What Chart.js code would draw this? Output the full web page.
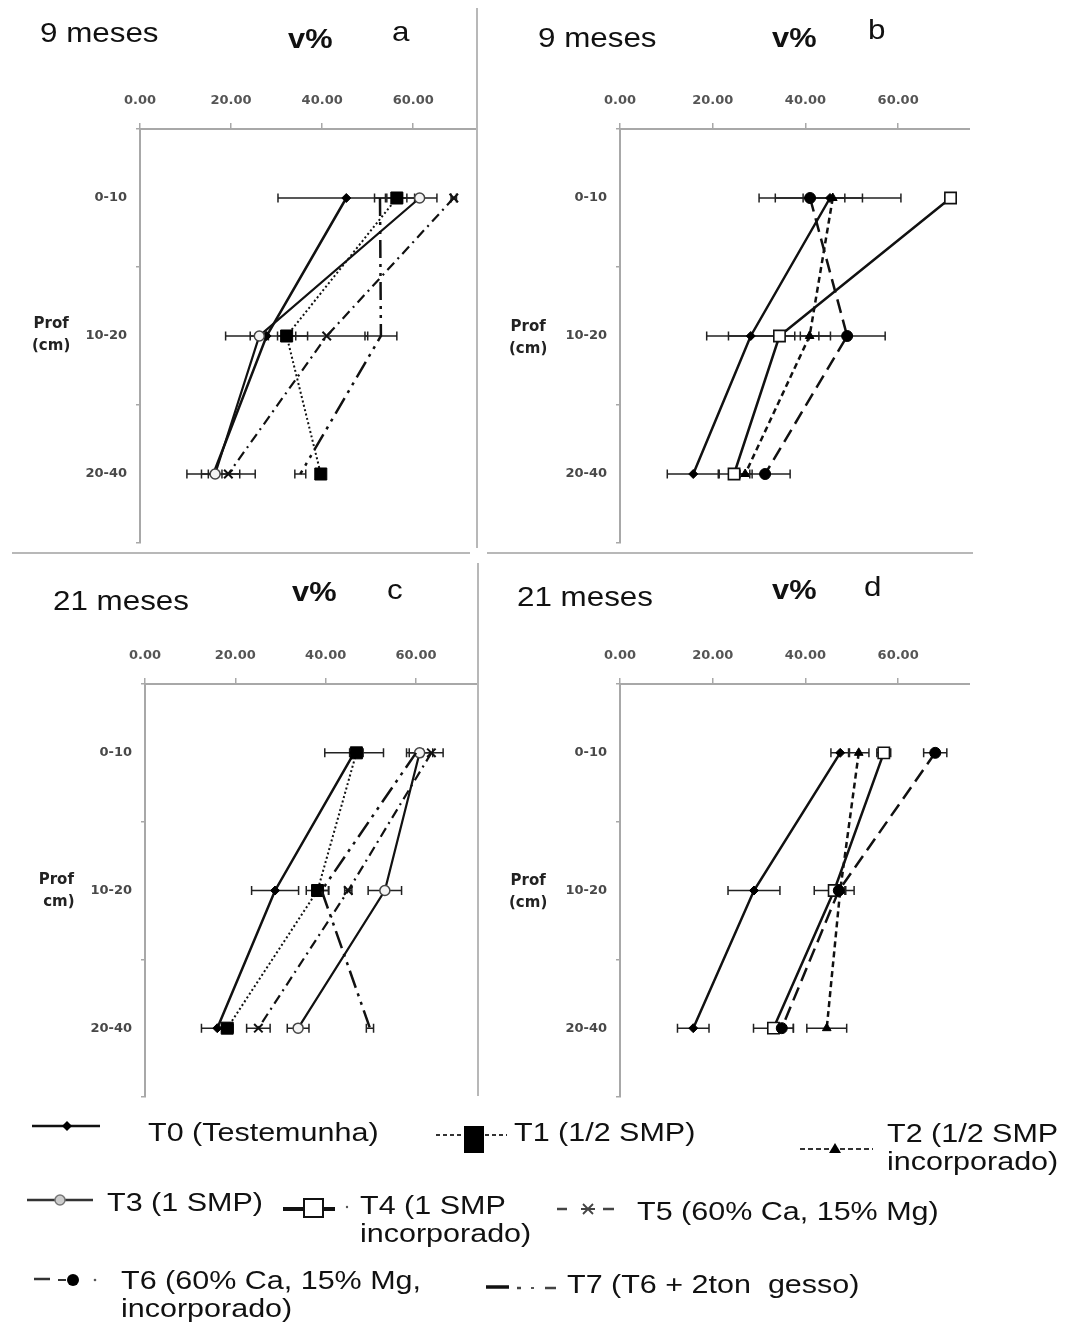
<!DOCTYPE html>
<html><head><meta charset="utf-8">
<script src="https://cdn.jsdelivr.net/npm/chart.js@4/dist/chart.umd.min.js"></script>
<style>
html,body{margin:0;padding:0;background:#fff;}
#root{position:relative;width:1066px;height:1323px;overflow:hidden;background:#fff;font-family:"Liberation Sans",Arial,sans-serif;color:#111;}
canvas{position:absolute;}
.t{position:absolute;white-space:nowrap;line-height:1;transform-origin:left top;}
.title{font-size:28px;transform:scaleX(1.12);}
.vp{font-size:28px;font-weight:bold;transform:scaleX(1.1);}
.prof{position:absolute;font-family:"DejaVu Sans",sans-serif;font-weight:bold;font-size:15px;line-height:22px;color:#222;text-align:center;}
.lg{position:absolute;white-space:nowrap;font-size:25px;line-height:28px;transform:scaleX(1.22);transform-origin:left top;}
.dv{position:absolute;background:#b8b8b8;}
</style></head><body>
<div id="root">
  <canvas id="ca" width="477" height="545" style="left:0;top:2px"></canvas>
  <canvas id="cb" width="490" height="545" style="left:480px;top:2px"></canvas>
  <canvas id="cc" width="477" height="544" style="left:0;top:557px"></canvas>
  <canvas id="cd" width="490" height="544" style="left:480px;top:557px"></canvas>

  <div class="dv" style="left:476px;top:8px;width:2px;height:540px"></div>
  <div class="dv" style="left:477px;top:563px;width:2px;height:533px"></div>
  <div class="dv" style="left:12px;top:552px;width:458px;height:2px"></div>
  <div class="dv" style="left:487px;top:552px;width:486px;height:2px"></div>

  <div class="t title" style="left:40px;top:19px">9 meses</div>
  <div class="t vp" style="left:288px;top:25px">v%</div>
  <div class="t title" style="left:392px;top:18px">a</div>
  <div class="t title" style="left:538px;top:24px">9 meses</div>
  <div class="t vp" style="left:772px;top:24px">v%</div>
  <div class="t title" style="left:868px;top:16px">b</div>
  <div class="t title" style="left:53px;top:587px">21 meses</div>
  <div class="t vp" style="left:292px;top:578px">v%</div>
  <div class="t title" style="left:387px;top:576px">c</div>
  <div class="t title" style="left:517px;top:583px">21 meses</div>
  <div class="t vp" style="left:772px;top:576px">v%</div>
  <div class="t title" style="left:864px;top:573px">d</div>

  <div class="prof" style="left:32px;top:312px">Prof<br>(cm)</div>
  <div class="prof" style="left:509px;top:315px">Prof<br>(cm)</div>
  <div class="prof" style="left:38px;top:868px">Prof<br>&nbsp;cm)</div>
  <div class="prof" style="left:509px;top:869px">Prof<br>(cm)</div>

  <svg style="position:absolute;left:0;top:1100px" width="1066" height="223" viewBox="0 1100 1066 223">
    <g stroke="#111" fill="none">
      <line x1="32" y1="1126" x2="100" y2="1126" stroke-width="2.5"/>
      <path d="M62 1126 L67 1121 L72 1126 L67 1131 Z" fill="#000" stroke="none"/>
      <line x1="436" y1="1135" x2="463" y2="1135" stroke-width="2" stroke-dasharray="4 3" stroke="#333"/>
      <line x1="485" y1="1135" x2="507" y2="1135" stroke-width="2" stroke-dasharray="4 3" stroke="#333"/>
      <rect x="464" y="1126" width="20" height="27" fill="#000" stroke="none"/>
      <line x1="800" y1="1149" x2="873" y2="1149" stroke-width="2" stroke-dasharray="5 3" stroke="#333"/>
      <path d="M829 1153 L835 1143 L841 1153 Z" fill="#000" stroke="none"/>
      <line x1="27" y1="1200" x2="93" y2="1200" stroke-width="2.5" stroke="#333"/>
      <circle cx="60" cy="1200" r="5" fill="#ccc" stroke="#777" stroke-width="1.5"/>
      <line x1="283" y1="1209" x2="335" y2="1209" stroke-width="4"/>
      <rect x="304" y="1199" width="19" height="18" fill="#fff" stroke="#111" stroke-width="2"/>
      <circle cx="347" cy="1207" r="1.2" fill="#555" stroke="none"/>
      <line x1="557" y1="1209" x2="567" y2="1209" stroke-width="2.5" stroke="#444"/>
      <line x1="581" y1="1209" x2="595" y2="1209" stroke-width="2" stroke="#444"/>
      <path d="M583 1204 L593 1214 M583 1214 L593 1204" stroke-width="1.8" stroke="#444"/>
      <line x1="603" y1="1209" x2="614" y2="1209" stroke-width="2.5" stroke="#444"/>
      <line x1="34" y1="1279" x2="50" y2="1279" stroke-width="2.5" stroke="#333"/>
      <line x1="58" y1="1280" x2="66" y2="1280" stroke-width="2" stroke="#333"/>
      <circle cx="73" cy="1280" r="6" fill="#000" stroke="none"/>
      <circle cx="95" cy="1280" r="1.3" fill="#555" stroke="none"/>
      <line x1="486" y1="1287" x2="509" y2="1287" stroke-width="3.5"/>
      <line x1="517" y1="1288" x2="521" y2="1288" stroke-width="2.5" stroke="#444"/>
      <line x1="531" y1="1288" x2="534" y2="1288" stroke-width="2" stroke="#555"/>
      <line x1="545" y1="1288" x2="556" y2="1288" stroke-width="2.5" stroke="#444"/>
    </g>
  </svg>

  <div class="lg" style="left:148px;top:1118px">T0 (Testemunha)</div>
  <div class="lg" style="left:514px;top:1118px">T1 (1/2 SMP)</div>
  <div class="lg" style="left:887px;top:1119px">T2 (1/2 SMP<br>incorporado)</div>
  <div class="lg" style="left:107px;top:1188px">T3 (1 SMP)</div>
  <div class="lg" style="left:360px;top:1191px">T4 (1 SMP<br>incorporado)</div>
  <div class="lg" style="left:637px;top:1197px">T5 (60% Ca, 15% Mg)</div>
  <div class="lg" style="left:121px;top:1266px">T6 (60% Ca, 15% Mg,<br>incorporado)</div>
  <div class="lg" style="left:567px;top:1270px">T7 (T6 + 2ton&nbsp; gesso)</div>
</div>

<script>
// ---------- DATA ----------
const depthLabels = ['0-10', '10-20', '20-40'];
const xTickValues = [0, 20, 40, 60];

// Panel a: 9 meses (surface application)
const a_T0 = [45.3, 27.8, 16.1];  const a_T0_err = [15.0, 9.0, 5.8];
const a_T1 = [56.4, 32.2, 39.7];  const a_T1_err = [2.2, 2.0, 1.0];
const a_T3 = [61.4, 26.2, 16.5];  const a_T3_err = [3.8, 2.0, 1.5];
const a_T5 = [68.9, 41.0, 19.4];  const a_T5_err = [0.6, 9.0, 5.9];
const a_T7 = [52.7, 52.9, 35.2];  const a_T7_err = [1.2, 3.5, 1.2];

// Panel b: 9 meses (incorporated)
const b_T0 = [45.3, 28.2, 15.8];  const b_T0_err = [15.3, 9.5, 5.6];
const b_T2 = [45.9, 40.9, 27.0];  const b_T2_err = [6.4, 2.0, 1.5];
const b_T4 = [71.3, 34.4, 24.6];  const b_T4_err = [1.2, 11.0, 3.4];
const b_T6 = [41.0, 49.0, 31.3];  const b_T6_err = [7.5, 8.2, 5.4];

// Panel c: 21 meses (surface application)
const c_T0 = [46.3, 28.8, 16.0];  const c_T0_err = [6.5, 5.2, 3.5];
const c_T1 = [46.8, 38.2, 18.2];  const c_T1_err = [1.5, 2.5, 1.2];
const c_T3 = [60.8, 53.1, 33.9];  const c_T3_err = [2.9, 3.7, 2.4];
const c_T5 = [63.4, 45.0, 25.1];  const c_T5_err = [2.6, 0.8, 2.6];
const c_T7 = [60.0, 39.1, 49.8];  const c_T7_err = [1.5, 1.5, 0.8];

// Panel d: 21 meses (incorporated)
const d_T0 = [47.5, 28.9, 15.8];  const d_T0_err = [2.0, 5.6, 3.4];
const d_T2 = [51.5, 47.5, 44.6];  const d_T2_err = [2.2, 1.0, 4.3];
const d_T4 = [56.9, 46.2, 33.1];  const d_T4_err = [1.5, 4.3, 4.3];
const d_T6 = [68.0, 47.2, 34.9];  const d_T6_err = [2.5, 1.5, 2.5];

// ---------- STYLES ----------
const styles = {
  T0: {borderDash: [], borderWidth: 2.5, pointStyle: 'rectRot', pointRadius: 4.5, pointBackgroundColor: '#000', pointBorderColor: '#000', pointBorderWidth: 1},
  T1: {borderDash: [2, 2.5], borderWidth: 2, pointStyle: 'rect', pointRadius: 8.5, pointBackgroundColor: '#000', pointBorderColor: '#000', pointBorderWidth: 1},
  T2: {borderDash: [6, 4], borderWidth: 2.5, pointStyle: 'triangle', pointRadius: 5, pointBackgroundColor: '#000', pointBorderColor: '#000', pointBorderWidth: 1},
  T3: {borderDash: [], borderWidth: 2.2, pointStyle: 'circle', pointRadius: 5, pointBackgroundColor: '#f4f4f4', pointBorderColor: '#444', pointBorderWidth: 1.5},
  T4: {borderDash: [], borderWidth: 2.5, pointStyle: 'rect', pointRadius: 8, pointBackgroundColor: '#fff', pointBorderColor: '#111', pointBorderWidth: 1.6},
  T5: {borderDash: [10, 5, 2, 5], borderWidth: 2.2, pointStyle: 'crossRot', pointRadius: 6, pointBackgroundColor: '#000', pointBorderColor: '#111', pointBorderWidth: 2},
  T6: {borderDash: [14, 7], borderWidth: 2.5, pointStyle: 'circle', pointRadius: 5.5, pointBackgroundColor: '#000', pointBorderColor: '#000', pointBorderWidth: 1},
  T7: {borderDash: [18, 6, 3, 6, 3, 6], borderWidth: 2.5, pointStyle: 'circle', pointRadius: 0, pointBackgroundColor: '#000', pointBorderColor: '#000', pointBorderWidth: 0}
};

function ds(name, values, errs) {
  return Object.assign({label: name, data: values, errors: errs, borderColor: '#111', fill: false, tension: 0, clip: false}, styles[name]);
}

const errorBarPlugin = {
  id: 'errorBars',
  beforeDatasetsDraw(chart) {
    const ctx = chart.ctx, xs = chart.scales.x;
    ctx.save();
    ctx.strokeStyle = '#222';
    ctx.lineWidth = 1.5;
    chart.data.datasets.forEach((d, i) => {
      const meta = chart.getDatasetMeta(i);
      meta.data.forEach((pt, j) => {
        const v = d.data[j], e = d.errors[j];
        const x1 = xs.getPixelForValue(v - e), x2 = xs.getPixelForValue(v + e), y = pt.y;
        ctx.beginPath();
        ctx.moveTo(x1, y); ctx.lineTo(x2, y);
        ctx.moveTo(x1, y - 4.5); ctx.lineTo(x1, y + 4.5);
        ctx.moveTo(x2, y - 4.5); ctx.lineTo(x2, y + 4.5);
        ctx.stroke();
      });
    });
    ctx.restore();
  }
};

function makeChart(id, xmax, yWidth, xHeight, datasets) {
  new Chart(document.getElementById(id), {
    type: 'line',
    data: {labels: depthLabels, datasets: datasets},
    options: {
      responsive: false,
      animation: false,
      indexAxis: 'y',
      layout: {autoPadding: false, padding: {left: 0, right: 0, top: 0, bottom: 4}},
      plugins: {legend: {display: false}, title: {display: false}, tooltip: {enabled: false}},
      scales: {
        x: {
          type: 'linear', position: 'top', min: 0, max: xmax,
          afterBuildTicks: s => { s.ticks = xTickValues.map(v => ({value: v})); },
          afterFit: s => { s.height = xHeight; s.paddingLeft = 0; s.paddingRight = 0; s.paddingTop = 0; s.paddingBottom = 0; },
          ticks: {callback: v => Number(v).toFixed(2), color: '#555', padding: 15,
                  font: {family: 'DejaVu Sans', size: 13, weight: 'bold'}, maxRotation: 0},
          grid: {drawOnChartArea: false, tickLength: 6, color: '#a8a8a8', lineWidth: 1.5},
          border: {color: '#a8a8a8', width: 2}
        },
        y: {
          type: 'category', offset: true,
          afterFit: s => { s.width = yWidth; s.paddingTop = 0; s.paddingBottom = 0; s.paddingLeft = 0; s.paddingRight = 0; },
          ticks: {color: '#484848', padding: 9, font: {family: 'DejaVu Sans', size: 13, weight: 'bold'}},
          grid: {offset: true, drawOnChartArea: false, tickLength: 4, color: '#a8a8a8', lineWidth: 1.5},
          border: {color: '#a8a8a8', width: 2}
        }
      }
    },
    plugins: [errorBarPlugin]
  });
}

makeChart('ca', 74, 140, 127, [
  ds('T7', a_T7, a_T7_err), ds('T5', a_T5, a_T5_err), ds('T1', a_T1, a_T1_err),
  ds('T3', a_T3, a_T3_err), ds('T0', a_T0, a_T0_err)
]);
makeChart('cb', 75.5, 140, 127, [
  ds('T6', b_T6, b_T6_err), ds('T2', b_T2, b_T2_err),
  ds('T4', b_T4, b_T4_err), ds('T0', b_T0, b_T0_err)
]);
makeChart('cc', 73.5, 145, 127, [
  ds('T7', c_T7, c_T7_err), ds('T5', c_T5, c_T5_err), ds('T1', c_T1, c_T1_err),
  ds('T3', c_T3, c_T3_err), ds('T0', c_T0, c_T0_err)
]);
makeChart('cd', 75.5, 140, 127, [
  ds('T6', d_T6, d_T6_err), ds('T2', d_T2, d_T2_err),
  ds('T4', d_T4, d_T4_err), ds('T0', d_T0, d_T0_err)
]);
</script>
</body></html>
